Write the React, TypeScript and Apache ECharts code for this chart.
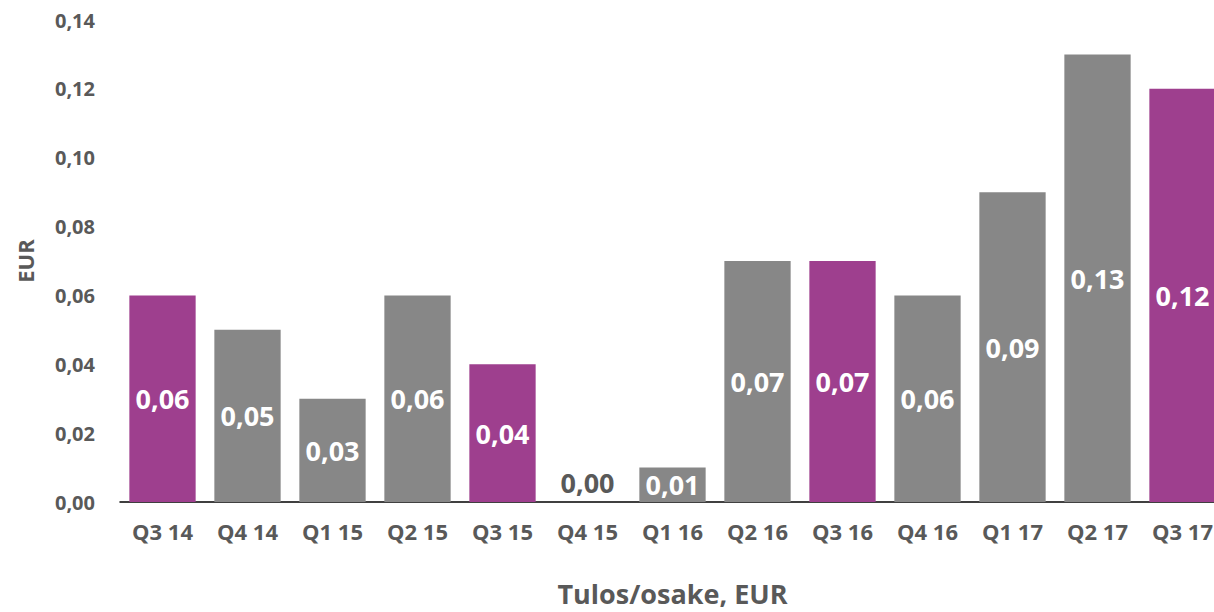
import React, { useEffect, useRef } from "react";
import * as echarts from "echarts";

const categories = ["Q3 14", "Q4 14", "Q1 15", "Q2 15", "Q3 15", "Q4 15", "Q1 16", "Q2 16", "Q3 16", "Q4 16", "Q1 17", "Q2 17", "Q3 17"];
const values = [0.06, 0.05, 0.03, 0.06, 0.04, 0.0, 0.01, 0.07, 0.07, 0.06, 0.09, 0.13, 0.12];
const highlighted = [true, false, false, false, true, false, false, false, true, false, false, false, true];

const PURPLE = "#9E3F8E";
const GREY = "#878787";
const TEXT = "#595959";
const FONT = "'Open Sans', Lato, sans-serif";

const fmt = (v: number) => v.toFixed(2).replace(".", ",");

export default function App() {
  const ref = useRef<HTMLDivElement>(null);
  useEffect(() => {
    const chart = echarts.init(ref.current!, null, { renderer: "svg" });
    chart.setOption({
      animation: false,
      grid: { left: 120, right: 0, top: 20, bottom: 110 },
      xAxis: {
        type: "category",
        data: categories,
        name: "Tulos/osake, EUR",
        nameLocation: "middle",
        nameGap: 78,
        nameTextStyle: { color: TEXT, fontSize: 27, fontWeight: "bold", fontFamily: FONT },
        axisLine: { lineStyle: { color: "#000", width: 1.5 } },
        axisTick: { show: false },
        axisLabel: { color: TEXT, fontSize: 22, fontWeight: "bold", fontFamily: FONT, margin: 18 },
      },
      yAxis: {
        type: "value",
        min: 0,
        max: 0.14,
        interval: 0.02,
        name: "EUR",
        nameLocation: "middle",
        nameGap: 84,
        nameRotate: 90,
        nameTextStyle: { color: TEXT, fontSize: 22, fontWeight: "bold", fontFamily: FONT },
        splitLine: { show: false },
        axisLine: { show: false },
        axisTick: { show: false },
        axisLabel: {
          color: TEXT,
          fontSize: 20,
          fontWeight: "bold",
          fontFamily: FONT,
          margin: 25,
          formatter: (v: number) => fmt(v),
        },
      },
      series: [
        {
          type: "bar",
          barWidth: "78%",
          data: values.map((v, i) => ({
            value: v,
            itemStyle: { color: highlighted[i] ? PURPLE : GREY },
            label:
              v < 0.005
                ? { position: "top", color: TEXT, distance: 6 }
                : { position: "inside", color: "#fff" },
          })),
          label: {
            show: true,
            fontSize: 27,
            fontWeight: "bold",
            fontFamily: FONT,
            formatter: (p: any) => fmt(p.value),
          },
        },
      ],
    });
    return () => chart.dispose();
  }, []);
  return (
    <div style={{ width: 1214, height: 612, position: "absolute", left: 0, top: 0, overflow: "hidden" }}>
      <div ref={ref} style={{ width: 1225, height: 612 }} />
    </div>
  );
}
